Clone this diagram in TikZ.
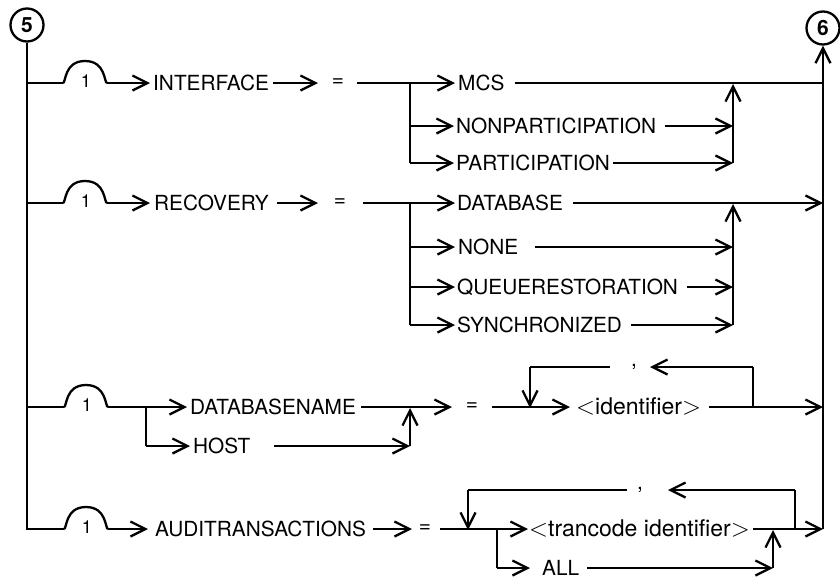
\documentclass[tikz,border=0pt]{standalone}
\usepackage{fontspec}
\setmainfont{TeX Gyre Heros}
\usetikzlibrary{arrows.meta}
\begin{document}
\begin{tikzpicture}[x=1pt,y=-1pt,
  rail/.style={line width=2.3pt, line join=miter},
  arr/.style={rail, -{Straight Barb[length=15pt,width=15pt,line width=2.3pt]}},
  lbl/.style={anchor=west, inner sep=0pt, text height=14.9pt, text depth=0pt,
              font=\fontsize{20.8}{24}\selectfont},
  ident/.style={lbl, font=\fontsize{23}{26}\selectfont},
  eqsign/.style={inner sep=0pt, font=\fontsize{20.8}{24}\selectfont},
  sep/.style={anchor=base, inner sep=0pt, font=\fontsize{20.8}{24}\selectfont},
  conn/.style={circle, draw, line width=2.3pt, minimum size=33pt, inner sep=0pt,
               font=\fontsize{21}{24}\selectfont\bfseries},
  bump/.pic={
    \draw[rail] (-22,0) .. controls (-19,0) and (-21,-22) .. (0,-22)
                        .. controls (21,-22) and (19,0) .. (22,0);
    \coordinate (-w) at (-22,0);
    \coordinate (-e) at (22,0);
    \node[inner sep=0pt, font=\fontsize{18}{20}\selectfont] (-n) at (1,-2) {1};
  }]
\useasboundingbox (0,0) rectangle (840,579);

% entry and exit connectors
\node[conn] (c5) at (27,25) {5};
\node[conn] (c6) at (823,28) {6};

% left trunk and right trunk
\coordinate (L1) at (27,83);
\coordinate (L2) at (27,203);
\coordinate (L3) at (27,407);
\coordinate (L4) at (27,529);
\coordinate (r1) at (823,83);
\coordinate (r2) at (823,203);
\coordinate (r3) at (823,407);
\coordinate (r4) at (823,529);

\pic (p1) at (85,83) {bump};
\pic (p2) at (85,203) {bump};
\pic (p3) at (86,407) {bump};
\pic (p4) at (86,529) {bump};

\draw[rail] (c5.south) -- (L4) -- (p4-w);
\draw[rail] (L1) -- (p1-w);
\draw[rail] (L2) -- (p2-w);
\draw[rail] (L3) -- (p3-w);
\draw[arr] (r4) -- (c6.south);

% ---- INTERFACE ----
\node[lbl] (interface) at (153,83) {INTERFACE};
\node[eqsign] (eq1) at (338,83) {=};
\coordinate (j1) at (410,83);
\coordinate (j1b) at (410,126);
\coordinate (j1c) at (410,163);
\node[lbl] (mcs) at (458,83) {MCS};
\node[lbl] (nonpart) at (456,126) {NONPARTICIPATION};
\node[lbl] (part) at (456,163) {PARTICIPATION};
\coordinate (k1a) at (733,83);
\coordinate (k1b) at (733,126);
\coordinate (k1c) at (733,163);

\draw[arr] (p1-e) -- ([xshift=-3pt]interface.west);
\draw[arr] ([xshift=4pt]interface.east) -- ([xshift=-20pt]eq1.center);
\draw[rail] ([xshift=19pt]eq1.center) -- (j1);
\draw[arr] (j1) -- ([xshift=-3pt]mcs.west);
\draw[rail] ([xshift=10pt]mcs.east) -- (r1);
\draw[rail] (j1) -- (j1c);
\draw[arr] (j1b) -- ([xshift=-2pt]nonpart.west);
\draw[arr] (j1c) -- ([xshift=-2pt]part.west);
\draw[arr] ([xshift=9pt]nonpart.east) -- (k1b);
\draw[arr] ([xshift=3pt]part.east) -- (k1c);
\draw[arr] (k1c) -- ([yshift=-1pt]k1a);

% ---- RECOVERY ----
\node[lbl] (recovery) at (154,203) {RECOVERY};
\node[eqsign] (eq2) at (340,203) {=};
\coordinate (j2) at (410,203);
\coordinate (j2b) at (410,247);
\coordinate (j2c) at (410,287);
\coordinate (j2d) at (410,325);
\node[lbl] (database) at (457,203) {DATABASE};
\node[lbl] (none) at (458,247) {NONE};
\node[lbl] (queue) at (457,287) {QUEUERESTORATION};
\node[lbl] (sync) at (457,325) {SYNCHRONIZED};
\coordinate (k2a) at (733,203);
\coordinate (k2b) at (733,247);
\coordinate (k2c) at (733,287);
\coordinate (k2d) at (733,325);

\draw[arr] (p2-e) -- ([xshift=-4pt]recovery.west);
\draw[arr] ([xshift=8pt]recovery.east) -- ([xshift=-22pt]eq2.center);
\draw[rail] ([xshift=23pt]eq2.center) -- (j2);
\draw[rail] (j2) -- (j2d);
\draw[arr] (j2) -- ([xshift=-2pt]database.west);
\draw[arr] (j2b) -- ([xshift=-3pt]none.west);
\draw[arr] (j2c) -- ([xshift=-2pt]queue.west);
\draw[arr] (j2d) -- ([xshift=-2pt]sync.west);
\draw[arr] ([xshift=10pt]database.east) -- (r2);
\draw[arr] ([xshift=17pt]none.east) -- (k2b);
\draw[arr] ([xshift=9pt]queue.east) -- (k2c);
\draw[arr] ([xshift=9pt]sync.east) -- (k2d);
\draw[arr] (k2d) -- ([yshift=-1pt]k2a);

% ---- DATABASENAME / HOST ----
\coordinate (j3) at (146,407);
\coordinate (j3b) at (146,446);
\node[lbl] (dbname) at (190,407) {DATABASENAME};
\node[lbl] (host) at (193,446) {HOST};
\coordinate (k3a) at (410,407);
\coordinate (k3b) at (410,446);
\node[eqsign] (eq3) at (472,407) {=};
\node[ident] (idn) at (576,407) {$<$identifier$>$};
\coordinate (lp1a) at (530,407);
\coordinate (lp1b) at (530,367);
\coordinate (lp1c) at (753,367);
\coordinate (lp1d) at (753,407);
\coordinate (lp1l) at (610,367);
\coordinate (lp1t) at (650,367);
\node[sep] (comma1) at (634,366) {,};

\draw[rail] (p3-e) -- (j3) -- (j3b);
\draw[arr] (j3) -- ([xshift=-3pt]dbname.west);
\draw[arr] (j3b) -- ([xshift=-3pt]host.west);
\draw[arr] ([xshift=5pt]dbname.east) -- ([xshift=-20pt]eq3.center);
\draw[arr] ([xshift=23pt]host.east) -- (k3b);
\draw[arr] (k3b) -- ([yshift=-1pt]k3a);
\draw[arr] ([xshift=20pt]eq3.center) -- ([xshift=-6pt]idn.west);
\draw[arr] ([xshift=8pt]idn.east) -- (r3);
\draw[rail] (lp1d) -- (lp1c);
\draw[arr] (lp1c) -- (lp1t);
\draw[rail] (lp1l) -- (lp1b);
\draw[arr] (lp1b) -- ([yshift=-1pt]lp1a);

% ---- AUDITRANSACTIONS ----
\node[lbl] (audit) at (155,529) {AUDITRANSACTIONS};
\node[eqsign] (eq4) at (425,529) {=};
\node[ident] (tran) at (529,529) {$<$trancode identifier$>$};
\node[lbl] (all) at (542,568) {ALL};
\coordinate (j4) at (497,529);
\coordinate (j4b) at (497,568);
\coordinate (k4a) at (773,529);
\coordinate (k4b) at (773,568);
\coordinate (lp2a) at (468,529);
\coordinate (lp2b) at (468,490);
\coordinate (lp2c) at (795,490);
\coordinate (lp2d) at (795,529);
\coordinate (lp2l) at (627,490);
\coordinate (lp2t) at (668,490);
\node[sep] (comma2) at (640,489) {,};

\draw[arr] (p4-e) -- ([xshift=-7pt]audit.west);
\draw[arr] ([xshift=7pt]audit.east) -- ([xshift=-13pt]eq4.center);
\draw[arr] ([xshift=15pt]eq4.center) -- ([xshift=-1pt]tran.west);
\draw[rail] (j4) -- (j4b);
\draw[arr] (j4b) -- ([xshift=-12pt]all.west);
\draw[arr] ([xshift=8pt]all.east) -- (k4b);
\draw[arr] (k4b) -- ([yshift=-1pt]k4a);
\draw[arr] ([xshift=3pt]tran.east) -- (r4);
\draw[rail] (lp2d) -- (lp2c);
\draw[arr] (lp2c) -- (lp2t);
\draw[rail] (lp2l) -- (lp2b);
\draw[arr] (lp2b) -- ([yshift=-1pt]lp2a);
\end{tikzpicture}
\end{document}
